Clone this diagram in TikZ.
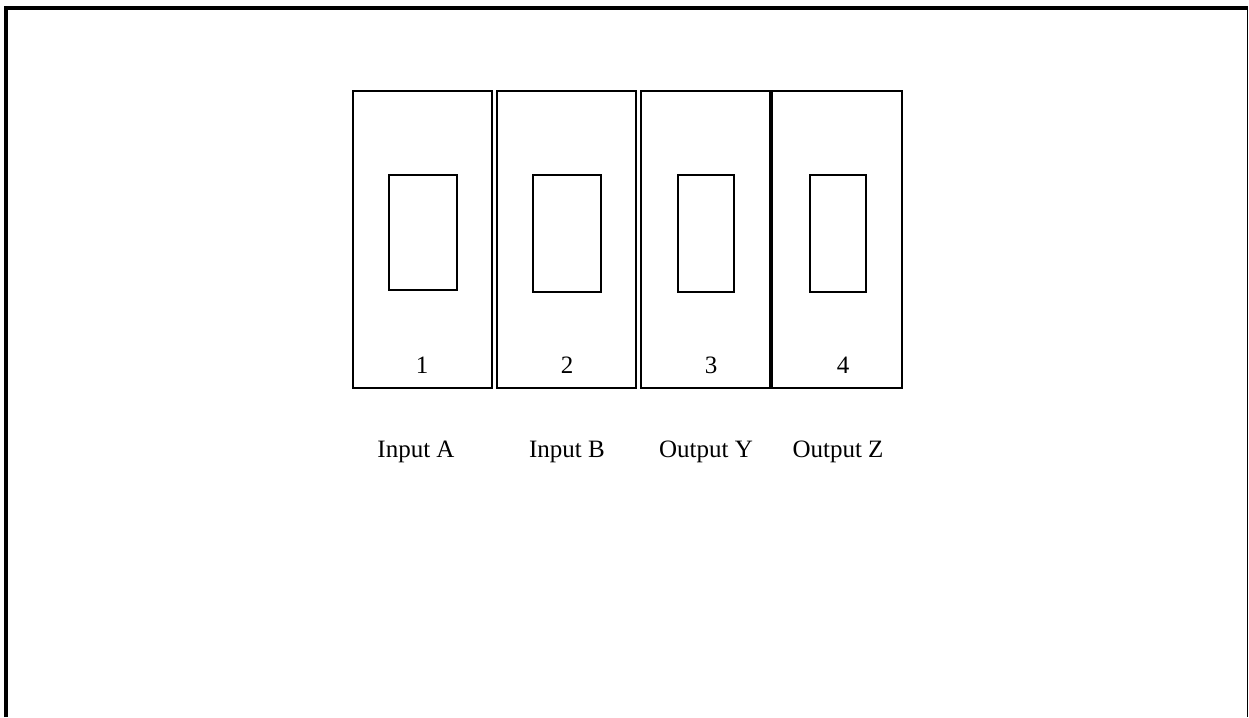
\documentclass[tikz,border=0pt]{standalone}
\usepackage{fontspec}
\setmainfont{Liberation Serif}
\usepackage{tikz}
\usetikzlibrary{positioning}
\tikzset{
  slot/.style={draw, line width=2pt, inner sep=0pt, minimum height=297pt},
  window/.style={draw, line width=2pt, inner sep=0pt},
  num/.style={font=\fontsize{25}{30}\selectfont, anchor=base, inner sep=0pt},
  caption/.style={font=\fontsize{25}{30}\selectfont, anchor=base, inner sep=0pt},
  frame/.style={line width=4pt, line join=miter}
}

\begin{document}
\begin{tikzpicture}[x=1pt, y=1pt]
  \useasboundingbox (0,0) rectangle (1249,717);
  % outer frame (no bottom edge)
  \draw[frame] (6,0) -- (6,709) -- (1248,709);
  \draw[line width=1pt] (1247.5,709) -- (1247.5,0);

  % the four slots
  \node[slot, minimum width=139pt] (slot1) at (422.5,477.5) {};
  \node[slot, minimum width=139pt] (slot2) at (566.5,477.5) {};
  \node[slot, minimum width=129pt] (slot3) at (705.5,477.5) {};
  \node[slot, minimum width=130pt] (slot4) at (837,477.5) {};

  % windows inside the slots
  \node[window, minimum width=68pt, minimum height=115pt] (win1) at (423,484.5) {};
  \node[window, minimum width=68pt, minimum height=117pt] (win2) at (567,483.5) {};
  \node[window, minimum width=56pt, minimum height=117pt] (win3) at (706,483.5) {};
  \node[window, minimum width=56pt, minimum height=117pt] (win4) at (838,483.5) {};

  % slot numbers
  \node[num] (n1) at (422,343) {1};
  \node[num] (n2) at (567,343) {2};
  \node[num] (n3) at (711,343) {3};
  \node[num] (n4) at (843,343) {4};

  % captions
  \node[caption] (capA) at (416,259) {Input A};
  \node[caption] (capB) at (567,259) {Input B};
  \node[caption] (capY) at (706,259) {Output Y};
  \node[caption] (capZ) at (838,259) {Output Z};
\end{tikzpicture}
\end{document}
